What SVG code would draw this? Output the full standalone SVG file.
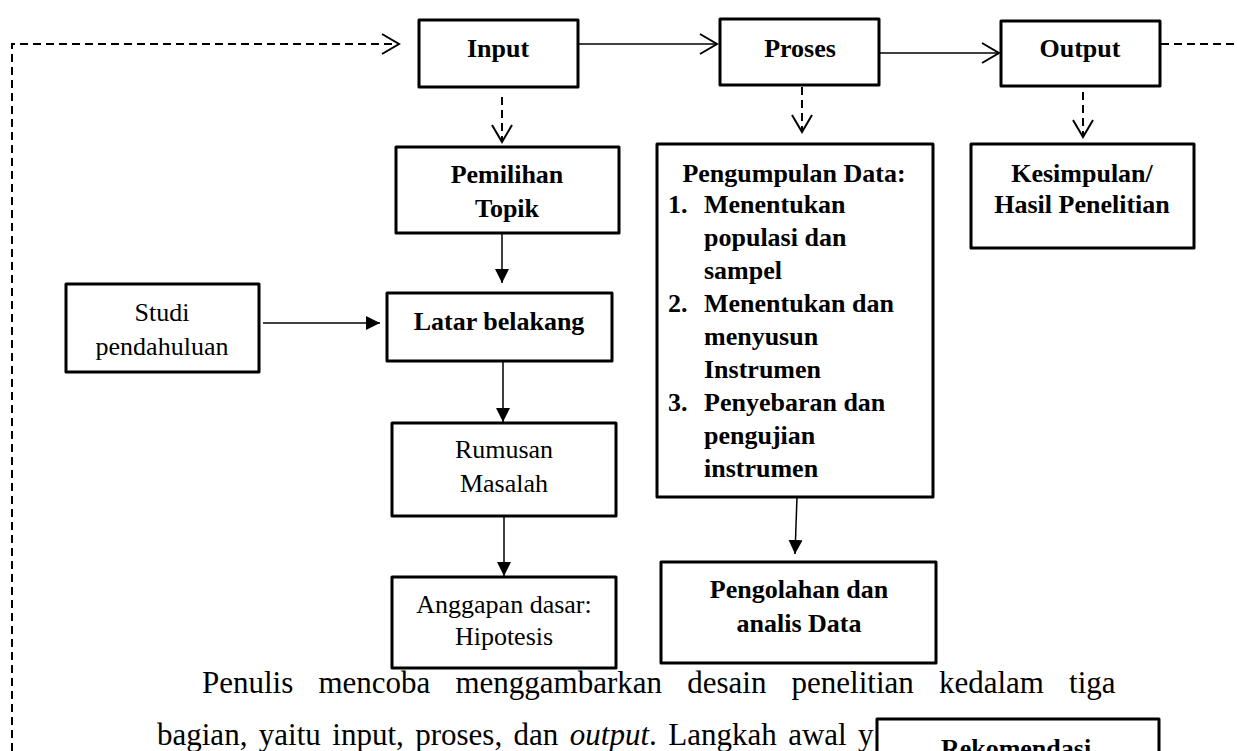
<svg xmlns="http://www.w3.org/2000/svg" width="1237" height="751" viewBox="0 0 1237 751">
<defs>
<style>
.box{fill:#fff;stroke:#000;stroke-width:3;stroke-linejoin:round}
.t{font-family:"Liberation Serif","Times New Roman",serif;font-size:26px;fill:#000;text-anchor:middle}
.b{font-weight:bold}
.l{text-anchor:start}
.p{font-family:"Liberation Serif","Times New Roman",serif;font-size:31px;fill:#000}
.solid{fill:none;stroke:#000;stroke-width:1.5}
.dash{fill:none;stroke:#000;stroke-width:2;stroke-dasharray:8 5}
</style>
<marker id="open" markerUnits="userSpaceOnUse" markerWidth="20" markerHeight="24" viewBox="0 0 20 24" refX="18" refY="12" orient="auto" overflow="visible">
<polyline points="1,2 18,12 1,22" fill="none" stroke="#000" stroke-width="2"/>
</marker>
<marker id="fill" markerUnits="userSpaceOnUse" markerWidth="14" markerHeight="14" viewBox="0 0 14 14" refX="14" refY="7" orient="auto">
<path d="M0,0 L14,7 L0,14 z" fill="#000"/>
</marker>
</defs>
<rect width="1237" height="751" fill="#fff"/>

<g id="paragraph">
<text class="p" x="202" y="693" word-spacing="17.4">Penulis mencoba menggambarkan desain penelitian kedalam tiga</text>
<text class="p" x="157" y="745" word-spacing="3.7">bagian, yaitu input, proses, dan <tspan font-style="italic">output</tspan>. Langkah awal y</text>
</g>

<g id="connectors">
<polyline class="dash" points="12,751 12,44 399,44" marker-end="url(#open)"/>
<line class="dash" x1="1161" y1="44" x2="1237" y2="44"/>
<line class="solid" x1="578" y1="44" x2="717" y2="44" marker-end="url(#open)"/>
<line class="solid" x1="879" y1="53" x2="999" y2="53" marker-end="url(#open)"/>
<line class="dash" x1="502" y1="97" x2="502" y2="142" marker-end="url(#open)"/>
<line class="dash" x1="802" y1="87" x2="802" y2="132" marker-end="url(#open)"/>
<line class="dash" x1="1083" y1="92" x2="1083" y2="137" marker-end="url(#open)"/>
<line class="solid" x1="502" y1="233" x2="502" y2="283" marker-end="url(#fill)"/>
<line class="solid" x1="263" y1="323" x2="380" y2="323" marker-end="url(#fill)"/>
<line class="solid" x1="503" y1="361" x2="503" y2="422" marker-end="url(#fill)"/>
<line class="solid" x1="504" y1="516" x2="504" y2="576" marker-end="url(#fill)"/>
<line class="solid" x1="797" y1="497" x2="795" y2="554" marker-end="url(#fill)"/>
</g>

<g id="input"><rect class="box" x="419" y="20" width="159" height="67"/><text class="t b" x="498" y="57">Input</text></g>
<g id="proses"><rect class="box" x="720" y="19" width="159" height="66"/><text class="t b" x="800" y="57">Proses</text></g>
<g id="output"><rect class="box" x="1001" y="21" width="159" height="65"/><text class="t b" x="1080" y="57">Output</text></g>

<g id="pemilihan"><rect class="box" x="396" y="147" width="223" height="86"/><text class="t b" x="507" y="183">Pemilihan</text><text class="t b" x="507" y="217">Topik</text></g>
<g id="studi"><rect class="box" x="66" y="284" width="193" height="88"/><text class="t" x="162" y="321">Studi</text><text class="t" x="162" y="355">pendahuluan</text></g>
<g id="latar"><rect class="box" x="387" y="293" width="225" height="68"/><text class="t b" x="499" y="330">Latar belakang</text></g>
<g id="rumusan"><rect class="box" x="392" y="423" width="224" height="93"/><text class="t" x="504" y="458">Rumusan</text><text class="t" x="504" y="492">Masalah</text></g>
<g id="anggapan"><rect class="box" x="392" y="577" width="224" height="91"/><text class="t" x="504" y="613">Anggapan dasar:</text><text class="t" x="504" y="645">Hipotesis</text></g>

<g id="pengumpulan"><rect class="box" x="657" y="144" width="276" height="353"/>
<text class="t b" x="794" y="182">Pengumpulan Data:</text>
<text class="t b l" x="668" y="213">1.</text><text class="t b l" x="704" y="213">Menentukan</text>
<text class="t b l" x="704" y="246">populasi dan</text>
<text class="t b l" x="704" y="279">sampel</text>
<text class="t b l" x="668" y="312">2.</text><text class="t b l" x="704" y="312">Menentukan dan</text>
<text class="t b l" x="704" y="345">menyusun</text>
<text class="t b l" x="704" y="378">Instrumen</text>
<text class="t b l" x="668" y="411">3.</text><text class="t b l" x="704" y="411">Penyebaran dan</text>
<text class="t b l" x="704" y="444">pengujian</text>
<text class="t b l" x="704" y="477">instrumen</text>
</g>
<g id="pengolahan"><rect class="box" x="661" y="562" width="275" height="101"/><text class="t b" x="799" y="598">Pengolahan dan</text><text class="t b" x="799" y="632">analis Data</text></g>
<g id="kesimpulan"><rect class="box" x="971" y="144" width="223" height="104"/><text class="t b" x="1082" y="182">Kesimpulan/</text><text class="t b" x="1082" y="213">Hasil Penelitian</text></g>
<g id="rekomendasi"><rect class="box" x="877" y="719" width="282" height="60"/><text class="t b" x="1016" y="757">Rekomendasi</text></g>
</svg>
